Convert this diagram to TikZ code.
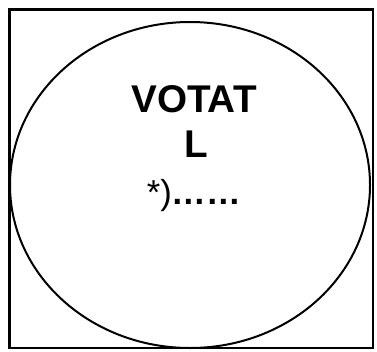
\documentclass[tikz,border=0pt]{standalone}
\usepackage{fontspec}
\setmainfont{Liberation Sans}
\usepackage{tikz}
\usetikzlibrary{positioning}
\tikzset{
	frame/.style    ={draw=black, line width=2pt},
	oval/.style     ={draw=black, line width=1.5pt},
	bigtxt/.style   ={font=\fontsize{29}{31}\selectfont\bfseries, anchor=base, inner sep=0pt},
	smalltxt/.style ={font=\fontsize{26}{28}\selectfont, anchor=base, inner sep=0pt},
}
\begin{document}
\begin{tikzpicture}[x=0.75pt, y=0.75pt]
	\useasboundingbox (0,0) rectangle (377,351);
	\draw[frame] (9.5,3) rectangle (373,341.5);
	\draw[oval] (190,166) ellipse (180 and 163);
	\node[bigtxt] (vote) at (194,239) {VOTAT};
	\node[bigtxt] (letter) at (196,194) {L};
	\node[smalltxt] (note) at (194,147) {*)\textbf{……}};
\end{tikzpicture}
\end{document}
